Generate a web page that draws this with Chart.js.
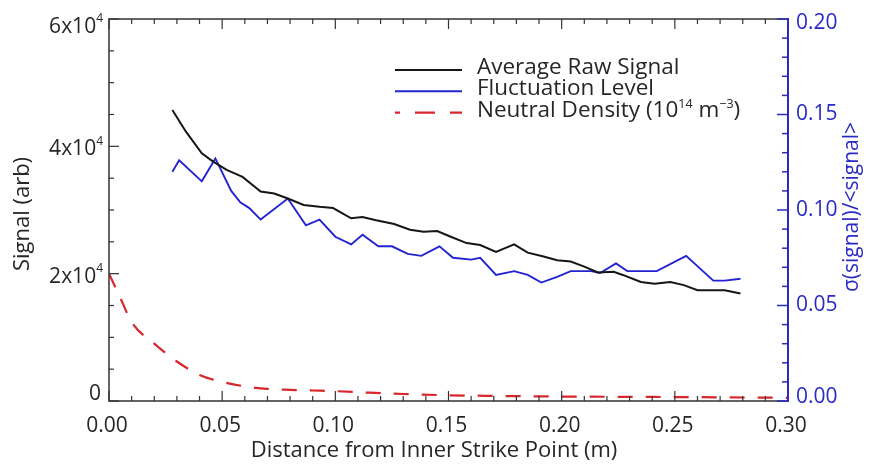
<!DOCTYPE html>
<html>
<head>
<meta charset="utf-8">
<script src="https://cdn.jsdelivr.net/npm/chart.js@4.4.1/dist/chart.umd.min.js"></script>
<style>
html,body{margin:0;padding:0;background:#ffffff;}
#wrap{width:872px;height:470px;position:relative;}
</style>
</head>
<body>
<div id="wrap"><canvas id="c" width="872" height="470"></canvas></div>
<script>
// ---------- data ----------
const seriesNames = ['Average Raw Signal', 'Fluctuation Level', 'Neutral Density'];

// Average Raw Signal (left axis, arb)
const rawX = [0.028, 0.034, 0.041, 0.046, 0.052, 0.059, 0.067, 0.073, 0.079, 0.086,
              0.093, 0.099, 0.107, 0.112, 0.118, 0.126, 0.133, 0.139, 0.145, 0.151,
              0.158, 0.164, 0.171, 0.179, 0.185, 0.192, 0.198, 0.204, 0.210, 0.216,
              0.223, 0.227, 0.235, 0.241, 0.248, 0.254, 0.260, 0.266, 0.272, 0.279];
const rawSignal = [45700, 42300, 38900, 37600, 36300, 35200, 32900, 32600, 31800, 30800,
                   30500, 30300, 28700, 28900, 28400, 27800, 26900, 26600, 26700, 25800,
                   24800, 24500, 23400, 24600, 23300, 22700, 22100, 21900, 21100, 20200,
                   20300, 19800, 18700, 18400, 18700, 18200, 17400, 17400, 17400, 16900];

// Fluctuation Level (right axis, sigma/<signal>)
const flucX = [0.028, 0.031, 0.041, 0.047, 0.054, 0.058, 0.062, 0.067, 0.079, 0.087,
               0.093, 0.100, 0.107, 0.112, 0.119, 0.125, 0.132, 0.138, 0.146, 0.152,
               0.160, 0.164, 0.171, 0.179, 0.185, 0.191, 0.198, 0.204, 0.213, 0.217,
               0.224, 0.229, 0.242, 0.255, 0.267, 0.272, 0.279];
const flucLevel = [0.120, 0.126, 0.115, 0.127, 0.110, 0.104, 0.101, 0.095, 0.106, 0.092,
                   0.095, 0.086, 0.082, 0.087, 0.081, 0.081, 0.077, 0.076, 0.081, 0.075,
                   0.074, 0.075, 0.066, 0.068, 0.066, 0.062, 0.065, 0.068, 0.068, 0.067,
                   0.072, 0.068, 0.068, 0.076, 0.063, 0.063, 0.064];

// Neutral Density (plotted against the left axis)
const neutX = [0.000, 0.005, 0.010, 0.020, 0.030, 0.040, 0.050, 0.060, 0.070, 0.080,
               0.090, 0.100, 0.115, 0.130, 0.150, 0.170, 0.200, 0.230, 0.260, 0.300];
const neutDensity = [20000, 16200, 12400, 9000, 6200, 4100, 3000, 2300, 1900, 1750,
                     1650, 1550, 1300, 1100, 900, 800, 700, 650, 600, 500];

// axis ticks
const xTickValues = [0.00, 0.05, 0.10, 0.15, 0.20, 0.25, 0.30];
const leftTickValues = [0, 20000, 40000, 60000];
const leftTickMantissa = ['0', '2x10', '4x10', '6x10'];
const leftTickExponent = ['', '4', '4', '4'];
const rightTickValues = [0.00, 0.05, 0.10, 0.15, 0.20];

// ---------- styling ----------
const FONT = '"Open Sans", "DejaVu Sans", sans-serif';
const BLACK = '#161616';
const BLUE = '#2323d2';
const RED = '#d8262c';
const AXIS_BLUE = '#2a2ac4';
const TEXT = '#262626';

function pts(xs, ys) { return xs.map((x, i) => ({x: x, y: ys[i]})); }

const decor = {
  id: 'decor',
  afterDraw(chart) {
    const {ctx, chartArea: a, scales} = chart;
    const sx = scales.x, sy = scales.y, sr = scales.y1;
    ctx.save();
    const seg = (x1, y1, x2, y2) => { ctx.beginPath(); ctx.moveTo(x1, y1); ctx.lineTo(x2, y2); ctx.stroke(); };

    // frame (top, left, bottom)
    ctx.strokeStyle = '#333'; ctx.lineWidth = 1.5;
    ctx.beginPath();
    ctx.moveTo(a.right, a.top); ctx.lineTo(a.left, a.top);
    ctx.lineTo(a.left, a.bottom); ctx.lineTo(a.right, a.bottom);
    ctx.stroke();

    // x ticks, bottom and top (inward)
    ctx.lineWidth = 1.2;
    for (let k = 0; k <= 30; k++) {
      const px = sx.getPixelForValue(k / 100);
      const L = (k % 5 === 0) ? 10 : 5;
      seg(px, a.bottom, px, a.bottom - L);
      seg(px, a.top, px, a.top + L);
    }
    // left ticks
    for (let k = 0; k <= 12; k++) {
      const py = sy.getPixelForValue(k * 5000);
      const L = (k % 4 === 0) ? 10 : 5;
      seg(a.left, py, a.left + L, py);
    }
    // right axis (blue)
    ctx.strokeStyle = AXIS_BLUE; ctx.lineWidth = 2;
    seg(a.right, a.top - 1, a.right, a.bottom + 1);
    ctx.lineWidth = 1.5;
    for (let k = 0; k <= 20; k++) {
      const py = sr.getPixelForValue(k / 100);
      const L = (k % 5 === 0) ? 11 : 6;
      seg(a.right, py, a.right - L, py);
    }

    const clamp = (v, lo, hi) => Math.max(lo, Math.min(hi, v));

    // x tick labels
    ctx.font = '21px ' + FONT; ctx.fillStyle = TEXT;
    ctx.textAlign = 'center'; ctx.textBaseline = 'middle';
    xTickValues.forEach(v => {
      ctx.fillText(v.toFixed(2), sx.getPixelForValue(v) - 2, a.bottom + 25);
    });

    // left tick labels with superscript
    leftTickValues.forEach((v, i) => {
      const py = clamp(sy.getPixelForValue(v) + 3, a.top + 8, a.bottom - 7);
      ctx.textAlign = 'left'; ctx.textBaseline = 'middle';
      ctx.font = '21px ' + FONT;
      const w1 = ctx.measureText(leftTickMantissa[i]).width;
      ctx.font = '12px ' + FONT;
      const w2 = ctx.measureText(leftTickExponent[i]).width;
      const right = leftTickExponent[i] ? a.left - 6 : a.left - 8;
      ctx.font = '21px ' + FONT;
      ctx.fillText(leftTickMantissa[i], right - w2 - w1, py);
      if (leftTickExponent[i]) {
        ctx.font = '12px ' + FONT;
        ctx.fillText(leftTickExponent[i], right - w2, py - 8);
      }
    });

    // right tick labels
    ctx.font = '21px ' + FONT; ctx.fillStyle = AXIS_BLUE;
    ctx.textAlign = 'left'; ctx.textBaseline = 'middle';
    rightTickValues.forEach(v => {
      const py = clamp(sr.getPixelForValue(v), a.top + 4, a.bottom - 4);
      ctx.fillText(v.toFixed(2), a.right + 8, py);
    });

    // axis titles
    ctx.fillStyle = TEXT; ctx.font = '22px ' + FONT;
    ctx.textAlign = 'center'; ctx.textBaseline = 'alphabetic';
    ctx.fillText('Distance from Inner Strike Point (m)', 434, 457);

    ctx.save();
    ctx.translate(29, 214); ctx.rotate(-Math.PI / 2);
    ctx.fillText('Signal (arb)', 0, 0);
    ctx.restore();

    ctx.save();
    ctx.fillStyle = AXIS_BLUE; ctx.font = '21px ' + FONT;
    ctx.translate(858, 207); ctx.rotate(-Math.PI / 2);
    ctx.fillText('\u03c3(signal)/<signal>', 0, 0);
    ctx.restore();

    // legend
    const ds = chart.data.datasets;
    const lx0 = 395, lx1 = 462, tx = 477;
    ds.forEach((d, i) => {
      const ly = 70 + 21.3 * i;
      ctx.save();
      ctx.strokeStyle = d.borderColor; ctx.lineWidth = d.borderWidth;
      if (d.borderDash) { ctx.setLineDash([20, 15]); ctx.lineDashOffset = 15; }
      seg(lx0, ly, lx1, ly);
      ctx.restore();
    });
    ctx.fillStyle = TEXT; ctx.textAlign = 'left'; ctx.textBaseline = 'alphabetic';
    ctx.font = '22.5px ' + FONT;
    ctx.fillText(seriesNames[0], tx, 74);
    ctx.fillText(seriesNames[1], tx, 95);
    // Neutral Density (10^14 m^-3)
    let cx = tx; const by = 116.5;
    const put = (s, size, dy) => {
      ctx.font = size + 'px ' + FONT;
      ctx.fillText(s, cx, by + dy);
      cx += ctx.measureText(s).width;
    };
    put(seriesNames[2] + ' (10', 22.5, 0);
    put('14', 12.5, -9);
    put(' m', 22.5, 0);
    put('\u22123', 12.5, -9);
    put(')', 22.5, 0);

    ctx.restore();
  }
};

new Chart(document.getElementById('c'), {
  type: 'line',
  data: {
    datasets: [
      { label: seriesNames[0], data: pts(rawX, rawSignal), yAxisID: 'y',
        borderColor: BLACK, borderWidth: 2, pointRadius: 0, tension: 0, fill: false },
      { label: seriesNames[1], data: pts(flucX, flucLevel), yAxisID: 'y1',
        borderColor: BLUE, borderWidth: 1.9, pointRadius: 0, tension: 0, fill: false },
      { label: seriesNames[2], data: pts(neutX, neutDensity), yAxisID: 'y',
        borderColor: RED, borderWidth: 2.2, borderDash: [15, 13], pointRadius: 0,
        tension: 0.3, cubicInterpolationMode: 'monotone', fill: false }
    ]
  },
  options: {
    responsive: false,
    animation: false,
    devicePixelRatio: 1,
    layout: { padding: { top: 19, left: 0, right: 0, bottom: 0 } },
    plugins: { legend: { display: false }, tooltip: { enabled: false } },
    scales: {
      x: { type: 'linear', position: 'bottom', min: 0, max: 0.3,
           ticks: { display: false, stepSize: 0.05 }, grid: { display: false }, border: { display: false },
           afterFit: s => { s.height = 69; } },
      y: { type: 'linear', position: 'left', min: 0, max: 60000,
           ticks: { display: false, stepSize: 20000 }, grid: { display: false }, border: { display: false },
           afterFit: s => { s.width = 109; } },
      y1: { type: 'linear', position: 'right', min: 0, max: 0.2,
            ticks: { display: false, stepSize: 0.05 }, grid: { display: false }, border: { display: false },
            afterFit: s => { s.width = 84; } }
    }
  },
  plugins: [decor]
});
</script>
</body>
</html>
